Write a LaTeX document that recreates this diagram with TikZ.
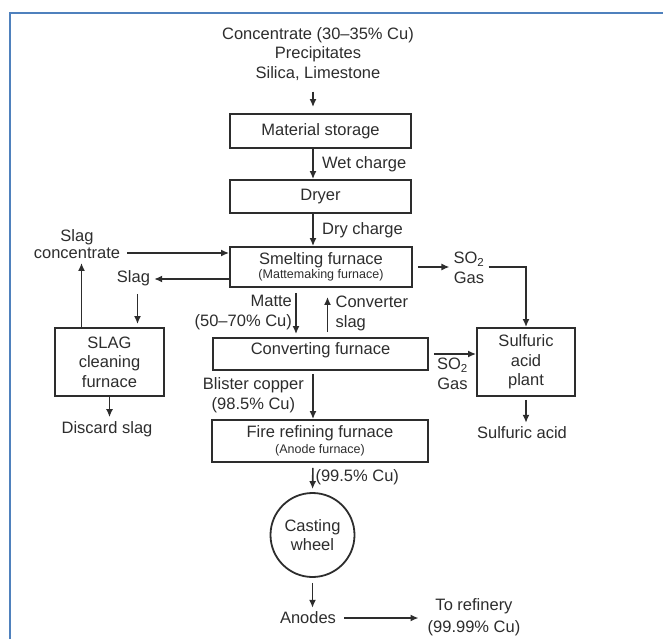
\documentclass[tikz,border=0pt]{standalone}
\usepackage{fontspec}
\setmainfont{Liberation Sans}
\usetikzlibrary{arrows.meta, positioning}

\definecolor{framebl}{RGB}{79,129,189}
\definecolor{ink}{RGB}{45,45,45}
\newcommand{\subnote}[1]{{\fontsize{12.5}{14}\selectfont #1}}

\begin{document}
\begin{tikzpicture}[x=1pt, y=-1pt, ->, >={Latex[length=8pt,width=7pt]}, color=ink, line width=1.6pt,
	font=\fontsize{16.5}{19.5}\selectfont,
	box/.style={draw, rectangle, line width=1.8pt, align=center, inner sep=2pt},
	wide/.style={minimum width=#1}]
	\useasboundingbox (0,0) rectangle (663,639);
	\draw[-, framebl, line width=2.5pt] (10,639) -- (10,13) -- (663,13);

	\coordinate				(spine)		at (313,0);
	\node[align=center]		(src)		at (318,54)		{Concentrate (30--35\% Cu)\\Precipitates\\Silica, Limestone};
	\node[box, wide=181pt, minimum height=34pt]	(store)	at (320.5,131)	{Material storage};
	\node[box, wide=181pt, minimum height=33pt]	(dryer)	at (320.5,196.5)	{Dryer};
	\node[box, wide=182pt, minimum height=40pt]	(smelt)	at (321,267)	{Smelting furnace\\[-5pt]\subnote{(Mattemaking furnace)}};
	\node[box, wide=215pt, minimum height=32pt, text height=12.5pt, text depth=12.5pt]	(conv)	at (320.5,354)	{Converting furnace};
	\node[box, wide=216pt, minimum height=42pt]	(fire)	at (320,441)	{Fire refining furnace\\[-3pt]\subnote{(Anode furnace)}};
	\node[circle, draw, line width=1.8pt, minimum size=84pt, inner sep=0pt, align=center]	(wheel)	at (312.5,535)	{Casting\\wheel};
	\node					(anodes)	at (308,618)	{Anodes};
	\node[align=center]		(refinery)	at (474,617)	{To refinery\\[2pt](99.99\% Cu)};

	\node[align=center]		(slagconc)	at (77,244)		{Slag\\[-2pt]concentrate};
	\node					(slag)		at (133.5,278)	{Slag};
	\node[box, wide=109pt, minimum height=68pt]	(clean)	at (109.5,362)	{SLAG\\cleaning\\furnace};
	\node					(discard)	at (107,429)	{Discard slag};

	\node[align=center]		(gas1)		at (469,268)	{SO\textsubscript{2}\\Gas};
	\node[box, wide=98pt, minimum height=68pt]	(plant)	at (526,362)	{Sulfuric\\acid\\plant};
	\node					(sulfacid)	at (522,433)	{Sulfuric acid};

	\path[->]
	(src.south -| spine)		edge [shorten <=7pt, shorten >=6pt]				(store.north -| spine)
	(store.south -| spine)		edge node [right, xshift=5pt] (wetlbl) {Wet charge}	(dryer.north -| spine)
	(dryer.south -| spine)		edge node [right, xshift=5pt] (drylbl) {Dry charge}	(smelt.north -| spine)
	([xshift=-25pt]smelt.south)	edge [shorten <=5pt, shorten >=3pt]
									node [left, align=right] (mattelbl) {Matte\\(50--70\% Cu)}	([xshift=-25pt]smelt.south |- conv.north)
	([xshift=7pt]conv.north)	edge [shorten <=5pt, shorten >=9pt]
									node [right, align=left, xshift=4pt, yshift=-1pt] (cslaglbl) {Converter\\slag}	([xshift=7pt]conv.north |- smelt.south)
	(conv.south -| spine)		edge [shorten <=3pt]
									node [left, align=center, xshift=-5pt] (blister) {Blister copper\\(98.5\% Cu)}	(fire.north -| spine)
	(fire.south -| spine)		edge [shorten <=5pt, shorten >=3pt]
									node [right, inner sep=2pt] (purelbl) {(99.5\% Cu)}	(wheel.north)
	(wheel.south)				edge [shorten <=5pt]								(anodes.north -| wheel.south)
	(anodes.east)				edge [shorten <=4pt, shorten >=5pt]				(anodes.east -| refinery.west)
	([yshift=-9pt]slagconc.east)	edge [shorten <=3pt]						([yshift=-9pt]slagconc.east -| smelt.west)
	([yshift=-12pt]smelt.west)	edge										([yshift=-12pt]smelt.west -| slag.east)
	([xshift=4pt]slag.south)	edge [shorten <=4pt, shorten >=3pt]				([xshift=4pt]slag.south |- clean.north)
	([xshift=-28pt]clean.north)	edge										([xshift=-28pt]clean.north |- slagconc.south)
	(clean.south)				edge										(clean.south |- discard.north)
	(smelt.east)				edge [shorten <=5pt]								(smelt.east -| gas1.west)
	(conv.east)					edge [shorten <=5pt]
									node [below, align=center] (gas2) {SO\textsubscript{2}\\Gas}	(conv.east -| plant.west)
	(plant.south)				edge [shorten <=3pt]								(plant.south |- sulfacid.north)
	;
	\draw[->] ([yshift=1pt]gas1.east) -| (plant.north);
\end{tikzpicture}
\end{document}
